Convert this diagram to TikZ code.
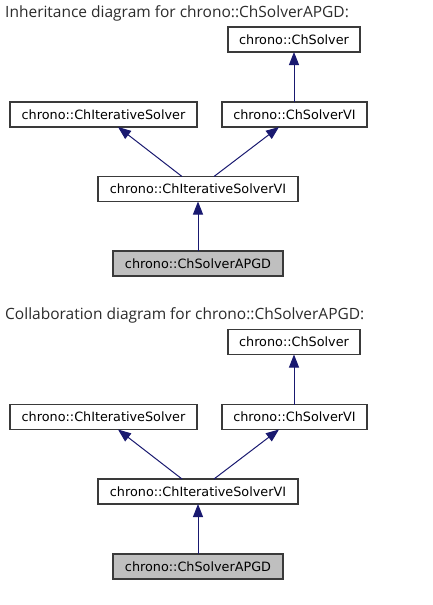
\documentclass[tikz,border=0pt]{standalone}
\usepackage{fontspec}
\setmainfont{DejaVu Sans}
\newfontfamily\titlefont{Open Sans}
\usetikzlibrary{arrows.meta}
\definecolor{edgeblue}{HTML}{191970}
\definecolor{boxline}{HTML}{3A3A3A}
\definecolor{titlecol}{HTML}{2B2B2B}
\definecolor{hlfill}{HTML}{BFBFBF}
\tikzset{
  cls/.style={draw=boxline, line width=1.1pt, fill=white, inner sep=0pt, outer sep=0pt,
    minimum height=25pt, font=\fontsize{12.8}{14}\selectfont, text=black},
  hl/.style={cls, fill=hlfill},
  inh/.style={draw=edgeblue, line width=1pt, -{Triangle[length=13pt,width=10pt]}, color=edgeblue, shorten >=0pt},
  ttl/.style={anchor=base west, inner sep=0pt, text=titlecol, font=\titlefont\fontsize{15.5}{18}\selectfont}
}
\begin{document}
\begin{tikzpicture}[x=1pt,y=-1pt]
\useasboundingbox (0,0) rectangle (432,605);
% ---------- Inheritance diagram ----------
\node[ttl] (t1) at (5,17) {Inheritance diagram for chrono::ChSolverAPGD:};
\node[cls, minimum width=132pt] (a1) at (294,39.5) {chrono::ChSolver};
\node[cls, minimum width=187pt] (b1) at (103.5,114.5) {chrono::ChIterativeSolver};
\node[cls, minimum width=145pt] (c1) at (294.5,114.5) {chrono::ChSolverVI};
\node[cls, minimum width=200pt] (d1) at (198,189) {chrono::ChIterativeSolverVI};
\node[hl, minimum width=170pt] (e1) at (198,263.5) {chrono::ChSolverAPGD};
\draw[inh] (c1.north -| a1.south) -- (a1.south);
\draw[inh] ([xshift=-16pt]d1.north) -- ([xshift=14.5pt]b1.south);
\draw[inh] ([xshift=16pt]d1.north) -- ([xshift=-15.5pt]c1.south);
\draw[inh] (e1.north) -- (d1.south);
% ---------- Collaboration diagram ----------
\node[ttl] (t2) at (5,319) {Collaboration diagram for chrono::ChSolverAPGD:};
\node[cls, minimum width=132pt] (a2) at (294,342) {chrono::ChSolver};
\node[cls, minimum width=187pt] (b2) at (103.5,417) {chrono::ChIterativeSolver};
\node[cls, minimum width=145pt] (c2) at (294.5,417) {chrono::ChSolverVI};
\node[cls, minimum width=200pt] (d2) at (198,491.5) {chrono::ChIterativeSolverVI};
\node[hl, minimum width=170pt] (e2) at (198,566.5) {chrono::ChSolverAPGD};
\draw[inh] (c2.north -| a2.south) -- (a2.south);
\draw[inh] ([xshift=-16pt]d2.north) -- ([xshift=14.5pt]b2.south);
\draw[inh] ([xshift=16pt]d2.north) -- ([xshift=-15.5pt]c2.south);
\draw[inh] (e2.north) -- (d2.south);
\end{tikzpicture}
\end{document}
